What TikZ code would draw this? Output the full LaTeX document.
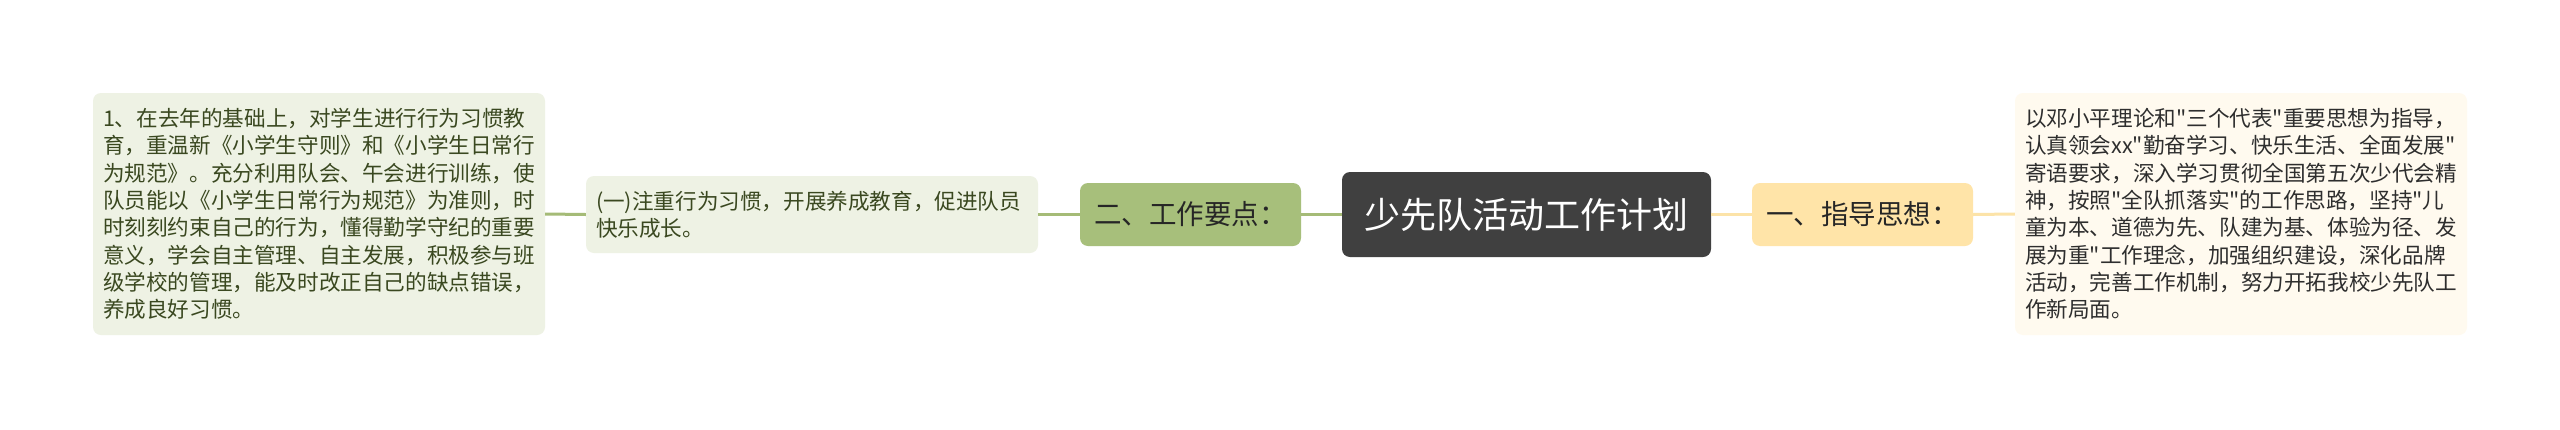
\documentclass[tikz,border=0pt]{standalone}
\usepackage{fontspec}
\setmainfont{Noto Sans CJK SC}[Ligatures=TeXOff]
\definecolor{leaffill}{HTML}{EEF2E4}
\definecolor{leaftext}{HTML}{3A4820}
\definecolor{greennode}{HTML}{A7BF7B}
\definecolor{greenline}{HTML}{A5BB77}
\definecolor{rootfill}{HTML}{404040}
\definecolor{yellownode}{HTML}{FFE4A8}
\definecolor{yellowline}{HTML}{FCE3A8}
\definecolor{rightfill}{HTML}{FFFAEF}
\definecolor{righttext}{HTML}{2E2E2E}
\tikzset{
  bigbox/.style={rectangle, rounded corners=8pt, inner xsep=10pt, inner ysep=0pt, align=left,
    font=\fontsize{21.6}{27.3}\selectfont},
  branch/.style={rectangle, rounded corners=8pt, inner sep=0pt, minimum width=221pt, minimum height=63pt,
    font=\fontsize{27.5}{30}\selectfont, text=black!85},
  gline/.style={draw=greenline, line width=3pt},
  yline/.style={draw=yellowline, line width=3pt}
}
\begin{document}
\begin{tikzpicture}[x=1pt,y=-1pt]
\useasboundingbox[fill=white] (0,0) rectangle (2560,429);

\node[bigbox, fill=leaffill, text=leaftext, text width=432pt, minimum height=242pt] (left) at (319,214)
 {1、在去年的基础上，对学生进行行为习惯教\\
 育，重温新《小学生守则》和《小学生日常行\\
 为规范》。充分利用队会、午会进行训练，使\\
 队员能以《小学生日常行为规范》为准则，时\\
 时刻刻约束自己的行为，懂得勤学守纪的重要\\
 意义，学会自主管理、自主发展，积极参与班\\
 级学校的管理，能及时改正自己的缺点错误，\\
 养成良好习惯。};

\node[bigbox, fill=leaffill, text=leaftext, text width=432pt, minimum height=77pt] (mid) at (812,214.5)
 {(一)注重行为习惯，开展养成教育，促进队员\\
 快乐成长。};

\node[branch, fill=greennode] (two) at (1190.5,214.5) {二、工作要点：};

\node[rectangle, rounded corners=8pt, inner sep=0pt, minimum width=369pt, minimum height=85pt,
  fill=rootfill, text=white, font=\fontsize{36}{40}\selectfont] (root) at (1526.5,214.5) {少先队活动工作计划};

\node[branch, fill=yellownode] (one) at (1862.5,214.5) {一、指导思想：};

\node[bigbox, fill=rightfill, text=righttext, text width=432pt, minimum height=242pt] (right) at (2241,214)
 {以邓小平理论和"三个代表"重要思想为指导，\\
 认真领会xx"勤奋学习、快乐生活、全面发展"\\
 寄语要求，深入学习贯彻全国第五次少代会精\\
 神，按照"全队抓落实"的工作思路，坚持"儿\\
 童为本、道德为先、队建为基、体验为径、发\\
 展为重"工作理念，加强组织建设，深化品牌\\
 活动，完善工作机制，努力开拓我校少先队工\\
 作新局面。};

\draw[gline] (left.east) -- (mid.west);
\draw[gline] (mid.east) -- (two.west);
\draw[gline] (two.east) -- (root.west);
\draw[yline] (root.east) -- (one.west);
\draw[yline] (one.east) -- (right.west);
\end{tikzpicture}
\end{document}
